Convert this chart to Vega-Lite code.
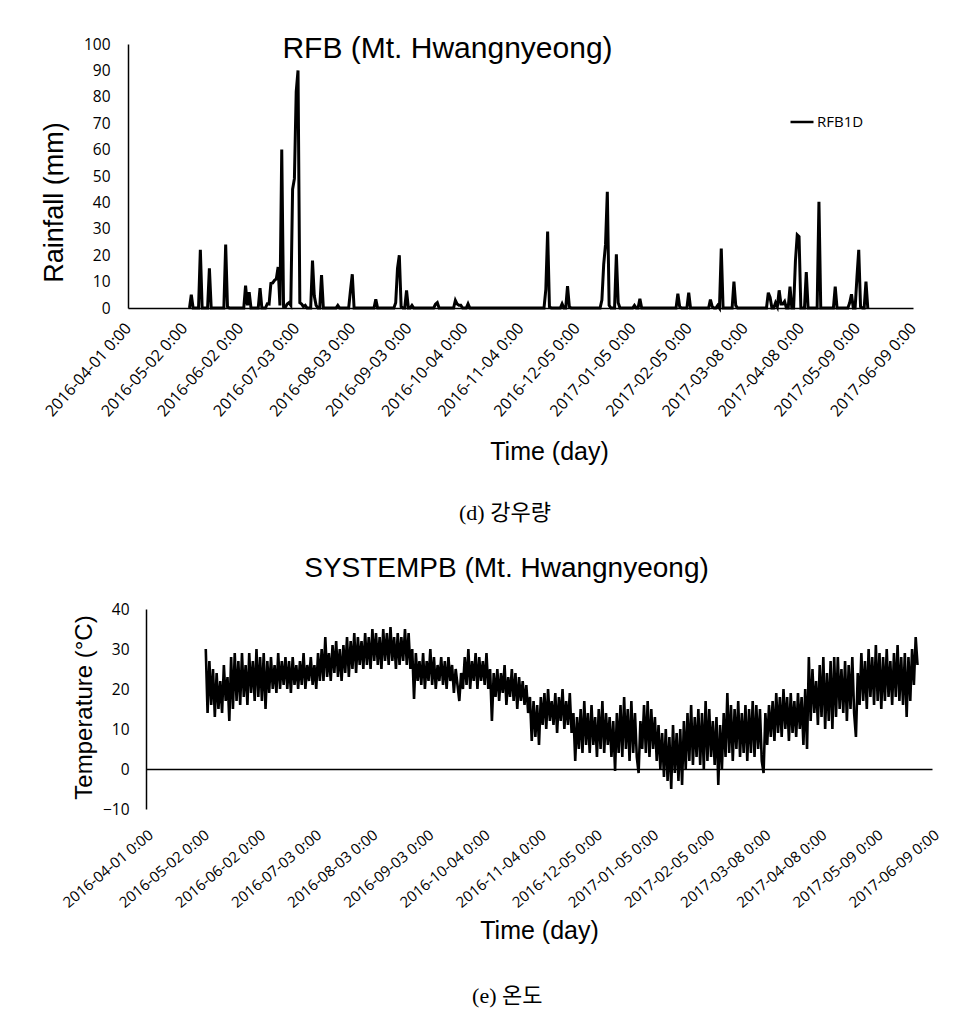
{
"$schema":"https://vega.github.io/schema/vega-lite/v6.json",
"background":"white",
"padding":{"left":39,"top":34,"right":5,"bottom":5},
"config":{
 "view":{"stroke":null},
 "axis":{"labelColor":"#000","titleColor":"#000","domainColor":"#000","grid":false,"ticks":false,"tickSize":0,"titleFontWeight":"normal","titleFont":"Liberation Sans","labelFont":"Open Sans","labelOverlap":false},
 "title":{"color":"#000","fontWeight":"normal","font":"Liberation Sans"}
},
"datasets":{
"rain":[
{"date":"2016-05-05","mm":0},{"date":"2016-05-06","mm":5},{"date":"2016-05-07","mm":0},
{"date":"2016-05-10","mm":0},{"date":"2016-05-11","mm":22},{"date":"2016-05-12","mm":0},
{"date":"2016-05-15","mm":0},{"date":"2016-05-16","mm":15},{"date":"2016-05-17","mm":0},
{"date":"2016-05-24","mm":0},{"date":"2016-05-25","mm":24},{"date":"2016-05-26","mm":0.5},{"date":"2016-05-27","mm":0},
{"date":"2016-06-04","mm":0},{"date":"2016-06-05","mm":8.5},{"date":"2016-06-06","mm":1},{"date":"2016-06-07","mm":6},{"date":"2016-06-08","mm":0},
{"date":"2016-06-12","mm":0},{"date":"2016-06-13","mm":7.5},{"date":"2016-06-14","mm":0},
{"date":"2016-06-16","mm":0},{"date":"2016-06-17","mm":1.6},{"date":"2016-06-18","mm":1.5},{"date":"2016-06-19","mm":9.3},{"date":"2016-06-20","mm":9.5},{"date":"2016-06-21","mm":10.5},{"date":"2016-06-22","mm":11},{"date":"2016-06-23","mm":15.5},{"date":"2016-06-24","mm":1},{"date":"2016-06-25","mm":60},{"date":"2016-06-26","mm":0.5},{"date":"2016-06-27","mm":0.3},{"date":"2016-06-28","mm":1.5},{"date":"2016-06-29","mm":2},{"date":"2016-06-30","mm":1},{"date":"2016-07-01","mm":45},{"date":"2016-07-02","mm":49},{"date":"2016-07-03","mm":82},{"date":"2016-07-04","mm":90},{"date":"2016-07-05","mm":2},{"date":"2016-07-06","mm":1.5},{"date":"2016-07-07","mm":0.5},{"date":"2016-07-08","mm":1},{"date":"2016-07-09","mm":0},
{"date":"2016-07-11","mm":0},{"date":"2016-07-12","mm":18},{"date":"2016-07-13","mm":4.5},{"date":"2016-07-14","mm":1},{"date":"2016-07-15","mm":0},{"date":"2016-07-16","mm":0},{"date":"2016-07-17","mm":12.5},{"date":"2016-07-18","mm":0},
{"date":"2016-07-25","mm":0},{"date":"2016-07-26","mm":1},{"date":"2016-07-27","mm":0},
{"date":"2016-08-01","mm":0},{"date":"2016-08-02","mm":6.7},{"date":"2016-08-03","mm":12.8},{"date":"2016-08-04","mm":0},
{"date":"2016-08-15","mm":0},{"date":"2016-08-16","mm":3.3},{"date":"2016-08-17","mm":0},
{"date":"2016-08-26","mm":0},{"date":"2016-08-27","mm":2},{"date":"2016-08-28","mm":15},{"date":"2016-08-29","mm":20},{"date":"2016-08-30","mm":0.5},{"date":"2016-08-31","mm":0},
{"date":"2016-09-01","mm":0},{"date":"2016-09-02","mm":6.7},{"date":"2016-09-03","mm":0},
{"date":"2016-09-04","mm":0},{"date":"2016-09-05","mm":1},{"date":"2016-09-06","mm":0},
{"date":"2016-09-17","mm":0},{"date":"2016-09-18","mm":1.4},{"date":"2016-09-19","mm":2},{"date":"2016-09-20","mm":0},
{"date":"2016-09-28","mm":0},{"date":"2016-09-29","mm":2.9},{"date":"2016-09-30","mm":1.5},{"date":"2016-10-01","mm":1},{"date":"2016-10-02","mm":1},{"date":"2016-10-03","mm":0},
{"date":"2016-10-05","mm":0},{"date":"2016-10-06","mm":1.6},{"date":"2016-10-07","mm":0},
{"date":"2016-11-17","mm":0},{"date":"2016-11-18","mm":7},{"date":"2016-11-19","mm":29},{"date":"2016-11-20","mm":0.5},{"date":"2016-11-21","mm":0},
{"date":"2016-11-26","mm":0},{"date":"2016-11-27","mm":1.6},{"date":"2016-11-28","mm":0},{"date":"2016-11-29","mm":0},{"date":"2016-11-30","mm":8.3},{"date":"2016-12-01","mm":0.5},{"date":"2016-12-02","mm":0},
{"date":"2016-12-18","mm":0},{"date":"2016-12-19","mm":3},{"date":"2016-12-20","mm":16.5},{"date":"2016-12-21","mm":24},{"date":"2016-12-22","mm":44},{"date":"2016-12-23","mm":1},{"date":"2016-12-24","mm":0},
{"date":"2016-12-26","mm":0},{"date":"2016-12-27","mm":20.3},{"date":"2016-12-28","mm":2},{"date":"2016-12-29","mm":0},
{"date":"2017-01-05","mm":0},{"date":"2017-01-06","mm":1},{"date":"2017-01-07","mm":0},{"date":"2017-01-08","mm":0},{"date":"2017-01-09","mm":3.5},{"date":"2017-01-10","mm":0},
{"date":"2017-01-29","mm":0},{"date":"2017-01-30","mm":5.4},{"date":"2017-01-31","mm":0.5},{"date":"2017-02-01","mm":0},
{"date":"2017-02-04","mm":0},{"date":"2017-02-05","mm":5.8},{"date":"2017-02-06","mm":0},
{"date":"2017-02-16","mm":0},{"date":"2017-02-17","mm":3.2},{"date":"2017-02-18","mm":0.5},{"date":"2017-02-19","mm":0},{"date":"2017-02-20","mm":0},{"date":"2017-02-21","mm":1},{"date":"2017-02-22","mm":0},{"date":"2017-02-23","mm":22.5},{"date":"2017-02-24","mm":0},
{"date":"2017-03-01","mm":0},{"date":"2017-03-02","mm":10},{"date":"2017-03-03","mm":1},{"date":"2017-03-04","mm":0},
{"date":"2017-03-20","mm":0},{"date":"2017-03-21","mm":5.8},{"date":"2017-03-22","mm":4},{"date":"2017-03-23","mm":0},{"date":"2017-03-24","mm":0},{"date":"2017-03-25","mm":2},{"date":"2017-03-26","mm":0.5},{"date":"2017-03-27","mm":6.7},{"date":"2017-03-28","mm":1.5},{"date":"2017-03-29","mm":1.5},{"date":"2017-03-30","mm":2.5},{"date":"2017-03-31","mm":0},
{"date":"2017-04-01","mm":0},{"date":"2017-04-02","mm":8.1},{"date":"2017-04-03","mm":0},{"date":"2017-04-04","mm":0},{"date":"2017-04-05","mm":17.8},{"date":"2017-04-06","mm":27.7},{"date":"2017-04-07","mm":27},{"date":"2017-04-08","mm":0},
{"date":"2017-04-10","mm":0},{"date":"2017-04-11","mm":13.6},{"date":"2017-04-12","mm":0},
{"date":"2017-04-17","mm":0},{"date":"2017-04-18","mm":40.2},{"date":"2017-04-19","mm":0},
{"date":"2017-04-26","mm":0},{"date":"2017-04-27","mm":8.1},{"date":"2017-04-28","mm":0},
{"date":"2017-05-04","mm":0},{"date":"2017-05-05","mm":2},{"date":"2017-05-06","mm":5.2},{"date":"2017-05-07","mm":0},{"date":"2017-05-08","mm":0},{"date":"2017-05-09","mm":11.5},{"date":"2017-05-10","mm":22},{"date":"2017-05-11","mm":0.5},{"date":"2017-05-12","mm":0},{"date":"2017-05-13","mm":0},{"date":"2017-05-14","mm":10},{"date":"2017-05-15","mm":0}
],
"temp":[
{"date":"2016-05-04","temp":30},{"date":"2016-05-05","temp":14},{"date":"2016-05-06","temp":27},{"date":"2016-05-07","temp":16},{"date":"2016-05-08","temp":25},{"date":"2016-05-09","temp":13},{"date":"2016-05-10","temp":24},{"date":"2016-05-11","temp":15},{"date":"2016-05-12","temp":22},{"date":"2016-05-13","temp":14},{"date":"2016-05-14","temp":26},{"date":"2016-05-15","temp":17},{"date":"2016-05-16","temp":23},{"date":"2016-05-17","temp":12},{"date":"2016-05-18","temp":28},{"date":"2016-05-19","temp":15},{"date":"2016-05-20","temp":29},{"date":"2016-05-21","temp":17},{"date":"2016-05-22","temp":27},{"date":"2016-05-23","temp":16},{"date":"2016-05-24","temp":29},{"date":"2016-05-25","temp":18},{"date":"2016-05-26","temp":26},{"date":"2016-05-27","temp":16},{"date":"2016-05-28","temp":29},{"date":"2016-05-29","temp":19},{"date":"2016-05-30","temp":27},{"date":"2016-05-31","temp":17},
{"date":"2016-06-01","temp":30},{"date":"2016-06-02","temp":18},{"date":"2016-06-03","temp":28},{"date":"2016-06-04","temp":17},{"date":"2016-06-05","temp":29},{"date":"2016-06-06","temp":15},{"date":"2016-06-07","temp":27},{"date":"2016-06-08","temp":19},{"date":"2016-06-09","temp":28},{"date":"2016-06-10","temp":20},{"date":"2016-06-11","temp":26},{"date":"2016-06-12","temp":19},{"date":"2016-06-13","temp":29},{"date":"2016-06-14","temp":20},{"date":"2016-06-15","temp":27},{"date":"2016-06-16","temp":21},{"date":"2016-06-17","temp":28},{"date":"2016-06-18","temp":20},{"date":"2016-06-19","temp":27},{"date":"2016-06-20","temp":19},{"date":"2016-06-21","temp":28},{"date":"2016-06-22","temp":21},{"date":"2016-06-23","temp":26},{"date":"2016-06-24","temp":20},{"date":"2016-06-25","temp":27},{"date":"2016-06-26","temp":21},{"date":"2016-06-27","temp":29},{"date":"2016-06-28","temp":20},{"date":"2016-06-29","temp":26},{"date":"2016-06-30","temp":22},
{"date":"2016-07-01","temp":28},{"date":"2016-07-02","temp":21},{"date":"2016-07-03","temp":26},{"date":"2016-07-04","temp":20},{"date":"2016-07-05","temp":29},{"date":"2016-07-06","temp":22},{"date":"2016-07-07","temp":30},{"date":"2016-07-08","temp":22},{"date":"2016-07-09","temp":33},{"date":"2016-07-10","temp":23},{"date":"2016-07-11","temp":29},{"date":"2016-07-12","temp":22},{"date":"2016-07-13","temp":31},{"date":"2016-07-14","temp":24},{"date":"2016-07-15","temp":32},{"date":"2016-07-16","temp":23},{"date":"2016-07-17","temp":30},{"date":"2016-07-18","temp":22},{"date":"2016-07-19","temp":31},{"date":"2016-07-20","temp":24},{"date":"2016-07-21","temp":33},{"date":"2016-07-22","temp":23},{"date":"2016-07-23","temp":32},{"date":"2016-07-24","temp":25},{"date":"2016-07-25","temp":34},{"date":"2016-07-26","temp":24},{"date":"2016-07-27","temp":33},{"date":"2016-07-28","temp":26},{"date":"2016-07-29","temp":32},{"date":"2016-07-30","temp":25},{"date":"2016-07-31","temp":34},
{"date":"2016-08-01","temp":26},{"date":"2016-08-02","temp":33},{"date":"2016-08-03","temp":25},{"date":"2016-08-04","temp":35},{"date":"2016-08-05","temp":27},{"date":"2016-08-06","temp":34},{"date":"2016-08-07","temp":26},{"date":"2016-08-08","temp":33},{"date":"2016-08-09","temp":25},{"date":"2016-08-10","temp":35},{"date":"2016-08-11","temp":27},{"date":"2016-08-12","temp":34},{"date":"2016-08-13","temp":26},{"date":"2016-08-14","temp":35.5},{"date":"2016-08-15","temp":27},{"date":"2016-08-16","temp":33},{"date":"2016-08-17","temp":25},{"date":"2016-08-18","temp":34},{"date":"2016-08-19","temp":26},{"date":"2016-08-20","temp":33},{"date":"2016-08-21","temp":27},{"date":"2016-08-22","temp":35},{"date":"2016-08-23","temp":26},{"date":"2016-08-24","temp":34},{"date":"2016-08-25","temp":25},{"date":"2016-08-26","temp":30},{"date":"2016-08-27","temp":17.5},{"date":"2016-08-28","temp":29},{"date":"2016-08-29","temp":22},{"date":"2016-08-30","temp":27},{"date":"2016-08-31","temp":21},
{"date":"2016-09-01","temp":29},{"date":"2016-09-02","temp":20},{"date":"2016-09-03","temp":27},{"date":"2016-09-04","temp":22},{"date":"2016-09-05","temp":30},{"date":"2016-09-06","temp":21},{"date":"2016-09-07","temp":28},{"date":"2016-09-08","temp":20},{"date":"2016-09-09","temp":26},{"date":"2016-09-10","temp":22},{"date":"2016-09-11","temp":28},{"date":"2016-09-12","temp":21},{"date":"2016-09-13","temp":27},{"date":"2016-09-14","temp":20},{"date":"2016-09-15","temp":28},{"date":"2016-09-16","temp":22},{"date":"2016-09-17","temp":26},{"date":"2016-09-18","temp":19},{"date":"2016-09-19","temp":25},{"date":"2016-09-20","temp":21},{"date":"2016-09-21","temp":17},{"date":"2016-09-22","temp":24},{"date":"2016-09-23","temp":20},{"date":"2016-09-24","temp":28},{"date":"2016-09-25","temp":21},{"date":"2016-09-26","temp":30},{"date":"2016-09-27","temp":20},{"date":"2016-09-28","temp":27},{"date":"2016-09-29","temp":22},{"date":"2016-09-30","temp":29},
{"date":"2016-10-01","temp":20},{"date":"2016-10-02","temp":28},{"date":"2016-10-03","temp":22},{"date":"2016-10-04","temp":27},{"date":"2016-10-05","temp":21},{"date":"2016-10-06","temp":29},{"date":"2016-10-07","temp":20},{"date":"2016-10-08","temp":25},{"date":"2016-10-09","temp":12},{"date":"2016-10-10","temp":24},{"date":"2016-10-11","temp":18},{"date":"2016-10-12","temp":25},{"date":"2016-10-13","temp":17},{"date":"2016-10-14","temp":24},{"date":"2016-10-15","temp":19},{"date":"2016-10-16","temp":26},{"date":"2016-10-17","temp":16},{"date":"2016-10-18","temp":23},{"date":"2016-10-19","temp":18},{"date":"2016-10-20","temp":25},{"date":"2016-10-21","temp":17},{"date":"2016-10-22","temp":24},{"date":"2016-10-23","temp":15},{"date":"2016-10-24","temp":23},{"date":"2016-10-25","temp":17},{"date":"2016-10-26","temp":22},{"date":"2016-10-27","temp":16},{"date":"2016-10-28","temp":21},{"date":"2016-10-29","temp":14},{"date":"2016-10-30","temp":18},{"date":"2016-10-31","temp":7},
{"date":"2016-11-01","temp":17},{"date":"2016-11-02","temp":8},{"date":"2016-11-03","temp":16},{"date":"2016-11-04","temp":6},{"date":"2016-11-05","temp":18},{"date":"2016-11-06","temp":11},{"date":"2016-11-07","temp":19},{"date":"2016-11-08","temp":10},{"date":"2016-11-09","temp":20},{"date":"2016-11-10","temp":12},{"date":"2016-11-11","temp":17},{"date":"2016-11-12","temp":11},{"date":"2016-11-13","temp":19},{"date":"2016-11-14","temp":9},{"date":"2016-11-15","temp":18},{"date":"2016-11-16","temp":12},{"date":"2016-11-17","temp":20},{"date":"2016-11-18","temp":10},{"date":"2016-11-19","temp":17},{"date":"2016-11-20","temp":11},{"date":"2016-11-21","temp":19},{"date":"2016-11-22","temp":9},{"date":"2016-11-23","temp":14},{"date":"2016-11-24","temp":2},{"date":"2016-11-25","temp":13},{"date":"2016-11-26","temp":5},{"date":"2016-11-27","temp":15},{"date":"2016-11-28","temp":4},{"date":"2016-11-29","temp":17},{"date":"2016-11-30","temp":6},
{"date":"2016-12-01","temp":14},{"date":"2016-12-02","temp":4},{"date":"2016-12-03","temp":16},{"date":"2016-12-04","temp":6},{"date":"2016-12-05","temp":13},{"date":"2016-12-06","temp":3},{"date":"2016-12-07","temp":15},{"date":"2016-12-08","temp":5},{"date":"2016-12-09","temp":17},{"date":"2016-12-10","temp":4},{"date":"2016-12-11","temp":14},{"date":"2016-12-12","temp":6},{"date":"2016-12-13","temp":13},{"date":"2016-12-14","temp":3},{"date":"2016-12-15","temp":12},{"date":"2016-12-16","temp":-0.5},{"date":"2016-12-17","temp":14},{"date":"2016-12-18","temp":4},{"date":"2016-12-19","temp":16},{"date":"2016-12-20","temp":3},{"date":"2016-12-21","temp":18},{"date":"2016-12-22","temp":5},{"date":"2016-12-23","temp":15},{"date":"2016-12-24","temp":2},{"date":"2016-12-25","temp":17},{"date":"2016-12-26","temp":4},{"date":"2016-12-27","temp":14},{"date":"2016-12-28","temp":3},{"date":"2016-12-29","temp":-1},{"date":"2016-12-30","temp":12},{"date":"2016-12-31","temp":5},
{"date":"2017-01-01","temp":16},{"date":"2017-01-02","temp":4},{"date":"2017-01-03","temp":17},{"date":"2017-01-04","temp":3},{"date":"2017-01-05","temp":15},{"date":"2017-01-06","temp":5},{"date":"2017-01-07","temp":13},{"date":"2017-01-08","temp":2},{"date":"2017-01-09","temp":11},{"date":"2017-01-10","temp":0},{"date":"2017-01-11","temp":9},{"date":"2017-01-12","temp":-2},{"date":"2017-01-13","temp":10},{"date":"2017-01-14","temp":-3},{"date":"2017-01-15","temp":8},{"date":"2017-01-16","temp":-5},{"date":"2017-01-17","temp":11},{"date":"2017-01-18","temp":-1},{"date":"2017-01-19","temp":9},{"date":"2017-01-20","temp":-3},{"date":"2017-01-21","temp":10},{"date":"2017-01-22","temp":-4},{"date":"2017-01-23","temp":12},{"date":"2017-01-24","temp":0},{"date":"2017-01-25","temp":14},{"date":"2017-01-26","temp":2},{"date":"2017-01-27","temp":16},{"date":"2017-01-28","temp":1},{"date":"2017-01-29","temp":13},{"date":"2017-01-30","temp":3},{"date":"2017-01-31","temp":15},
{"date":"2017-02-01","temp":1},{"date":"2017-02-02","temp":14},{"date":"2017-02-03","temp":0},{"date":"2017-02-04","temp":17},{"date":"2017-02-05","temp":2},{"date":"2017-02-06","temp":15},{"date":"2017-02-07","temp":3},{"date":"2017-02-08","temp":12},{"date":"2017-02-09","temp":1},{"date":"2017-02-10","temp":13},{"date":"2017-02-11","temp":-4},{"date":"2017-02-12","temp":11},{"date":"2017-02-13","temp":0},{"date":"2017-02-14","temp":14},{"date":"2017-02-15","temp":3},{"date":"2017-02-16","temp":19},{"date":"2017-02-17","temp":4},{"date":"2017-02-18","temp":16},{"date":"2017-02-19","temp":2},{"date":"2017-02-20","temp":15},{"date":"2017-02-21","temp":5},{"date":"2017-02-22","temp":17},{"date":"2017-02-23","temp":3},{"date":"2017-02-24","temp":14},{"date":"2017-02-25","temp":4},{"date":"2017-02-26","temp":16},{"date":"2017-02-27","temp":2},{"date":"2017-02-28","temp":15},
{"date":"2017-03-01","temp":4},{"date":"2017-03-02","temp":17},{"date":"2017-03-03","temp":3},{"date":"2017-03-04","temp":16},{"date":"2017-03-05","temp":5},{"date":"2017-03-06","temp":15},{"date":"2017-03-07","temp":2},{"date":"2017-03-08","temp":-1},{"date":"2017-03-09","temp":14},{"date":"2017-03-10","temp":6},{"date":"2017-03-11","temp":16},{"date":"2017-03-12","temp":8},{"date":"2017-03-13","temp":17},{"date":"2017-03-14","temp":7},{"date":"2017-03-15","temp":19},{"date":"2017-03-16","temp":9},{"date":"2017-03-17","temp":18},{"date":"2017-03-18","temp":8},{"date":"2017-03-19","temp":20},{"date":"2017-03-20","temp":10},{"date":"2017-03-21","temp":18},{"date":"2017-03-22","temp":7},{"date":"2017-03-23","temp":19},{"date":"2017-03-24","temp":9},{"date":"2017-03-25","temp":17},{"date":"2017-03-26","temp":8},{"date":"2017-03-27","temp":19},{"date":"2017-03-28","temp":10},{"date":"2017-03-29","temp":18},{"date":"2017-03-30","temp":6},{"date":"2017-03-31","temp":20},
{"date":"2017-04-01","temp":5},{"date":"2017-04-02","temp":28},{"date":"2017-04-03","temp":12},{"date":"2017-04-04","temp":25},{"date":"2017-04-05","temp":14},{"date":"2017-04-06","temp":22},{"date":"2017-04-07","temp":11},{"date":"2017-04-08","temp":26},{"date":"2017-04-09","temp":13},{"date":"2017-04-10","temp":28},{"date":"2017-04-11","temp":10},{"date":"2017-04-12","temp":24},{"date":"2017-04-13","temp":12},{"date":"2017-04-14","temp":27},{"date":"2017-04-15","temp":10},{"date":"2017-04-16","temp":28},{"date":"2017-04-17","temp":13},{"date":"2017-04-18","temp":28},{"date":"2017-04-19","temp":15},{"date":"2017-04-20","temp":25},{"date":"2017-04-21","temp":14},{"date":"2017-04-22","temp":27},{"date":"2017-04-23","temp":12},{"date":"2017-04-24","temp":26},{"date":"2017-04-25","temp":15},{"date":"2017-04-26","temp":28},{"date":"2017-04-27","temp":14},{"date":"2017-04-28","temp":8},{"date":"2017-04-29","temp":24},{"date":"2017-04-30","temp":16},
{"date":"2017-05-01","temp":29},{"date":"2017-05-02","temp":17},{"date":"2017-05-03","temp":27},{"date":"2017-05-04","temp":15},{"date":"2017-05-05","temp":30},{"date":"2017-05-06","temp":18},{"date":"2017-05-07","temp":28},{"date":"2017-05-08","temp":16},{"date":"2017-05-09","temp":31},{"date":"2017-05-10","temp":17},{"date":"2017-05-11","temp":29},{"date":"2017-05-12","temp":15},{"date":"2017-05-13","temp":28},{"date":"2017-05-14","temp":17},{"date":"2017-05-15","temp":30},{"date":"2017-05-16","temp":18},{"date":"2017-05-17","temp":27},{"date":"2017-05-18","temp":16},{"date":"2017-05-19","temp":29},{"date":"2017-05-20","temp":18},{"date":"2017-05-21","temp":31},{"date":"2017-05-22","temp":17},{"date":"2017-05-23","temp":28},{"date":"2017-05-24","temp":16},{"date":"2017-05-25","temp":29},{"date":"2017-05-26","temp":13},{"date":"2017-05-27","temp":28},{"date":"2017-05-28","temp":17},{"date":"2017-05-29","temp":30},{"date":"2017-05-30","temp":21},{"date":"2017-05-31","temp":33},
{"date":"2017-06-01","temp":26}
]
},
"spacing":30,
"vconcat":[
 {
  "title":{"text":"(d) 강우량","orient":"bottom","anchor":"middle","font":"'Liberation Serif', 'Noto Sans CJK KR'","fontSize":22,"offset":39,"dx":26},
  "spacing":0,
  "hconcat":[
   {"data":{"values":[]},"mark":"point","width":1,"height":1},
   {
    "width":785,"height":264,
    "data":{"name":"rain"},
    "title":{"text":"RFB (Mt. Hwangnyeong)","fontSize":30,"anchor":"middle","frame":"group","dx":-73,"offset":-27},
    "mark":{"type":"line","strokeWidth":3},
    "encoding":{
     "x":{"field":"date","type":"temporal",
      "scale":{"type":"utc","domain":[{"year":2016,"month":4,"date":1,"utc":true},{"year":2017,"month":6,"date":9,"utc":true}]},
      "axis":{"values":[{"year":2016,"month":4,"date":1,"utc":true},{"year":2016,"month":5,"date":2,"utc":true},{"year":2016,"month":6,"date":2,"utc":true},{"year":2016,"month":7,"date":3,"utc":true},{"year":2016,"month":8,"date":3,"utc":true},{"year":2016,"month":9,"date":3,"utc":true},{"year":2016,"month":10,"date":4,"utc":true},{"year":2016,"month":11,"date":4,"utc":true},{"year":2016,"month":12,"date":5,"utc":true},{"year":2017,"month":1,"date":5,"utc":true},{"year":2017,"month":2,"date":5,"utc":true},{"year":2017,"month":3,"date":8,"utc":true},{"year":2017,"month":4,"date":8,"utc":true},{"year":2017,"month":5,"date":9,"utc":true},{"year":2017,"month":6,"date":9,"utc":true}],
       "labelExpr":"utcFormat(datum.value, '%Y-%m-%d %-H:%M')","labelAngle":-48,"labelFontSize":16,"labelPadding":17,"labelFlush":false,"labelBound":false,"labelOverlap":false,
       "domainWidth":1.5,"title":"Time (day)","titleFontSize":25,"titlePadding":20,"titleX":421}},
     "y":{"field":"mm","type":"quantitative","scale":{"domain":[0,100]},
      "axis":{"values":[0,10,20,30,40,50,60,70,80,90,100],"labelFontSize":15.5,"labelPadding":18,"domainWidth":1.5,"labelOverlap":false,
       "title":"Rainfall (mm)","titleFontSize":27,"titleX":-66,"titleY":158,"titleBaseline":"alphabetic","titleAlign":"center","titleAngle":-90}},
     "color":{"datum":"RFB1D","type":"nominal","scale":{"range":["#000000"]},
      "legend":{"title":null,"orient":"none","legendX":750,"legendY":65,"symbolType":"stroke","symbolSize":529,"symbolStrokeWidth":2.5,"labelFontSize":15,"labelFont":"Open Sans","labelColor":"#000","labelOffset":2,"padding":0}}
    }
   }
  ]
 },
 {
  "title":{"text":"(e) 온도","orient":"bottom","anchor":"middle","font":"'Liberation Serif', 'Noto Sans CJK KR'","fontSize":22,"offset":43,"dx":17},
  "spacing":20,
  "hconcat":[
   {"data":{"values":[]},"mark":"point","width":1,"height":1},
   {
    "width":786,"height":200,
    "data":{"name":"temp"},
    "title":{"text":"SYSTEMPB (Mt. Hwangnyeong)","fontSize":28,"anchor":"middle","frame":"group","dx":-32.5,"offset":19},
    "mark":{"type":"line","strokeWidth":2.6,"color":"#000"},
    "encoding":{
     "x":{"field":"date","type":"temporal",
      "scale":{"type":"utc","domain":[{"year":2016,"month":4,"date":1,"utc":true},{"year":2017,"month":6,"date":9,"utc":true}]},
      "axis":{"values":[{"year":2016,"month":4,"date":1,"utc":true},{"year":2016,"month":5,"date":2,"utc":true},{"year":2016,"month":6,"date":2,"utc":true},{"year":2016,"month":7,"date":3,"utc":true},{"year":2016,"month":8,"date":3,"utc":true},{"year":2016,"month":9,"date":3,"utc":true},{"year":2016,"month":10,"date":4,"utc":true},{"year":2016,"month":11,"date":4,"utc":true},{"year":2016,"month":12,"date":5,"utc":true},{"year":2017,"month":1,"date":5,"utc":true},{"year":2017,"month":2,"date":5,"utc":true},{"year":2017,"month":3,"date":8,"utc":true},{"year":2017,"month":4,"date":8,"utc":true},{"year":2017,"month":5,"date":9,"utc":true},{"year":2017,"month":6,"date":9,"utc":true}],
       "labelExpr":"utcFormat(datum.value, '%Y-%m-%d %-H:%M')","labelAngle":-40,"labelFontSize":15,"labelPadding":18,"labelFlush":false,"labelBound":false,"labelOverlap":false,
       "domain":false,"title":"Time (day)","titleFontSize":25,"titlePadding":8}},
     "y":{"field":"temp","type":"quantitative","scale":{"domain":[-10,40]},
      "axis":{"values":[-10,0,10,20,30,40],"labelFontSize":15.5,"labelPadding":17,"domainWidth":1.5,"labelOverlap":false,"labelFlush":false,"labelBound":false,
       "grid":true,"gridColor":"#000","gridWidth":1.3,"gridOpacity":{"condition":{"test":"datum.value === 0","value":1},"value":0},
       "title":"Temperature (°C)","titleFontSize":24,"titleX":-55,"titleY":98,"titleBaseline":"alphabetic","titleAlign":"center","titleAngle":-90}}
    }
   }
  ]
 }
]
}
